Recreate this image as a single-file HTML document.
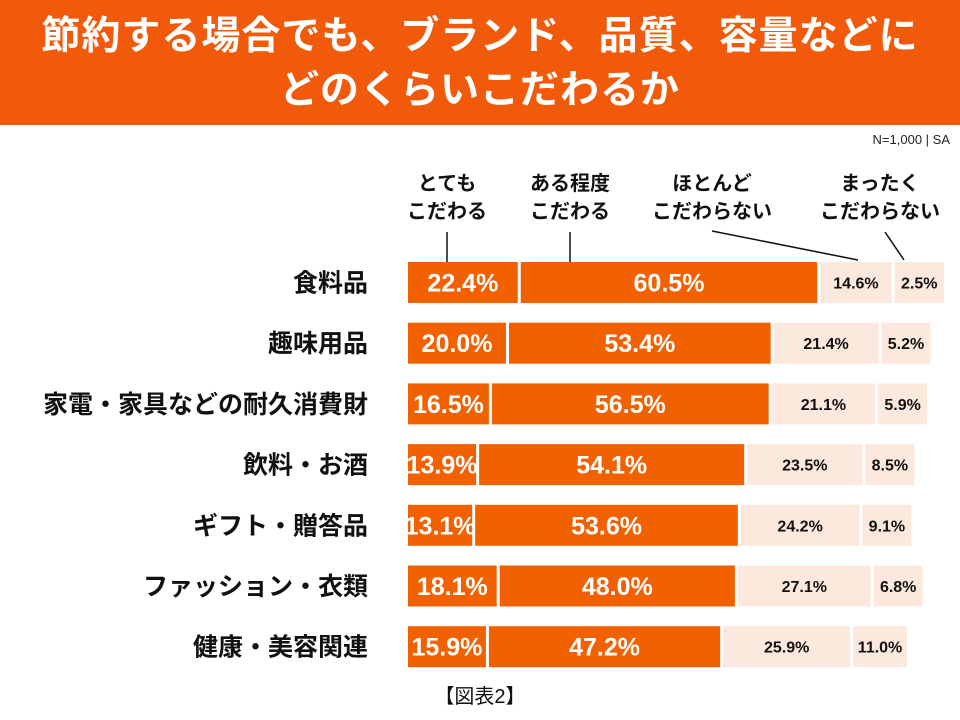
<!DOCTYPE html>
<html><head><meta charset="utf-8"><style>
body{margin:0;width:960px;height:720px;background:#fff;overflow:hidden;font-family:"Liberation Sans","Noto Sans CJK JP",sans-serif;}
#banner{position:absolute;left:0;top:0;width:960px;height:125px;background:#f05a0a;color:#fff;font-weight:bold;font-size:39px;text-align:center;line-height:54px;padding-top:10px;box-sizing:border-box;letter-spacing:1px}
#n{position:absolute;right:10px;top:132px;font-size:13px;color:#222}
#fig{position:absolute;left:0;width:960px;top:680px;text-align:center;font-size:20px;color:#111}
</style></head><body>
<div id="banner">節約する場合でも、ブランド、品質、容量などに<br>どのくらいこだわるか</div>
<div id="n">N=1,000 | SA</div>
<svg id="chart" width="960" height="720" style="position:absolute;left:0;top:0"></svg>
<div id="fig">【図表2】</div>
<script>
const categories=["食料品","趣味用品","家電・家具などの耐久消費財","飲料・お酒","ギフト・贈答品","ファッション・衣類","健康・美容関連"];
const seriesNames=["とても\nこだわる","ある程度\nこだわる","ほとんど\nこだわらない","まったく\nこだわらない"];
const s1=[22.4,20.0,16.5,13.9,13.1,18.1,15.9];
const s2=[60.5,53.4,56.5,54.1,53.6,48.0,47.2];
const s3=[14.6,21.4,21.1,23.5,24.2,27.1,25.9];
const s4=[2.5,5.2,5.9,8.5,9.1,6.8,11.0];
const svg=document.getElementById('chart');
const NS='http://www.w3.org/2000/svg';
const x0=408,scale=4.9,minW=49,gap=3,top0=262,step=60.7,bh=41;
function mk(t,a){const e=document.createElementNS(NS,t);for(const k in a)e.setAttribute(k,a[k]);svg.appendChild(e);return e;}
const fills=['#f26100','#f26100','#fce8dc','#fce8dc'];
const series=[s1,s2,s3,s4];
categories.forEach((c,i)=>{
  const y=top0+i*step;
  const lab=mk('text',{x:368,y:y+bh/2+9,'text-anchor':'end','font-size':25,'font-weight':'bold',fill:'#111'});
  lab.textContent=c;
  
  
  let x=x0;
  series.forEach((s,k)=>{
    const w=Math.max(s[i]*scale,minW);
    const r=mk('rect',{x:x,y:y,width:w,height:bh,fill:fills[k]});
    
    
    const t=mk('text',{x:x+w/2,y:y+bh/2+(k<2?9:6),'text-anchor':'middle','font-weight':'bold','font-size':k<2?25:16,fill:k<2?'#fff':'#111'});
    t.textContent=s[i].toFixed(1)+'%';
    
    
    x+=w+gap;
  });
});
const lx=[447,570,712,880];
seriesNames.forEach((n,k)=>{
  n.split('\n').forEach((ln,j)=>{
    const t=mk('text',{x:lx[k],y:190+j*28,'text-anchor':'middle','font-size':20,'font-weight':'bold',fill:'#111'});
    t.textContent=ln;
    
    
  });
});
const lines=[[447,232,447,262],[570,232,570,262],[712,231,858,260],[885,232,904,260]];
lines.forEach(l=>{
  const e=mk('line',{x1:l[0],y1:l[1],x2:l[2],y2:l[3],stroke:'#111','stroke-width':1.5});
  
  
});
</script>
</body></html>
